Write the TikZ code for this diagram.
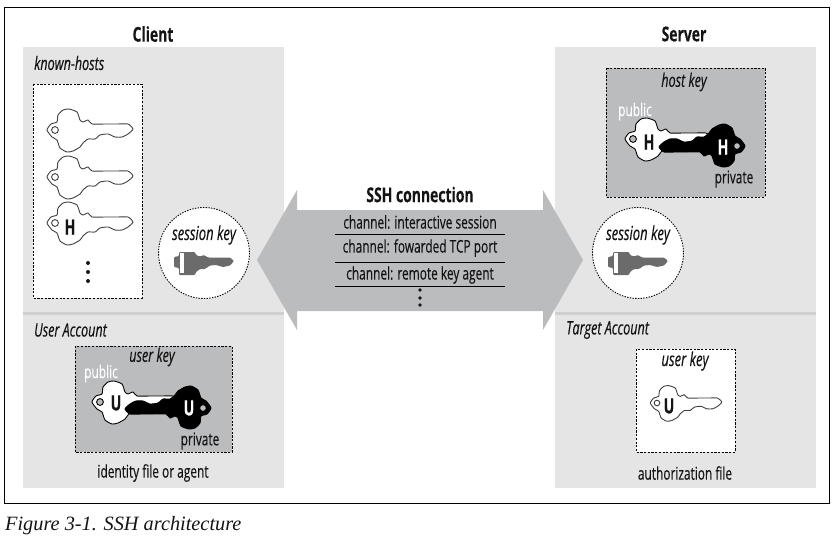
\documentclass[tikz,border=0pt]{standalone}
\usepackage{fontspec}
\setmainfont[FakeStretch=0.68,FakeBold=0.25,BoldFeatures={FakeStretch=0.68},ItalicFeatures={FakeStretch=0.68,FakeBold=0.25}]{Open Sans}
\newfontfamily\capfont{Liberation Serif}
\definecolor{panel}{HTML}{E5E5E5}
\definecolor{midgray}{HTML}{BBBCBE}
\definecolor{divider}{HTML}{CFCFCF}
\definecolor{skey}{HTML}{6B6B6B}
\definecolor{ink}{HTML}{141414}
\tikzset{
  dashbox/.style={draw=black,line width=0.8pt,dash pattern=on 2.2pt off 1.5pt},
  dotcirc/.style={draw=black,fill=white,line width=0.9pt,dash pattern=on 1.4pt off 1.3pt},
  label/.style={inner sep=0pt,font=\fontsize{17.5}{19}\selectfont,text=ink},
  ilabel/.style={label,font=\fontsize{18.5}{20}\selectfont\itshape},
  ibig/.style={label,font=\fontsize{19.2}{21}\selectfont\itshape},
  blabel/.style={label,font=\fontsize{20.5}{22}\selectfont\bfseries},
  keyletter/.style={inner sep=0pt,font=\fontsize{21}{23}\selectfont\bfseries},
  pics/keyshape/.style n args={3}{code={
    \draw[line width=0.9pt,draw=#1,fill=#2,line join=round]
      plot[smooth cycle,tension=0.35] coordinates {
      (-8,0) (-4,-6) (2,-8) (3,-15) (8,-20) (14,-21) (22,-18) (25,-10) (28,-8) (33,-10) (37,-6)
      (50,-6) (62,-6) (73,-6) (78,-1) (73,4) (67,7) (60,7) (53,4) (45,5) (40,9) (33,9)
      (28,13) (25,17) (18,21) (12,22) (5,18) (2,10) (-3,7)};
    \draw[line width=0.9pt,draw=#1,fill=#3] (0,0) circle (3.4);
  }},
  pics/sessionkey/.style={code={
    \fill[skey,rounded corners=1pt] (0,-5) -- (5,-6) -- (5,-10) -- (21,-10) -- (22,-7) -- (26,-5.5) -- (30,-7) -- (34,-4.5) -- (56,-4.5) -- (60,-1)
      -- (56,3.5) -- (49,5) -- (42,3) -- (36,3.5) -- (31,7) -- (26,7) -- (22,10) -- (21,13) -- (5,13) -- (5,6) -- (0,5) -- cycle;
    \fill[white] (6,-9) rectangle (10,11);
  }}
}
\begin{document}
\begin{tikzpicture}[x=1pt,y=-1pt]
\path[use as bounding box] (0,0) rectangle (837,550);
\draw[black,line width=0.9pt] (4,7) rectangle (829,503);
% panels
\fill[panel] (23,47) rectangle (284,488);
\fill[panel] (555,47) rectangle (816,488);
\fill[divider] (23,312) rectangle (284,315);
\fill[divider] (555,312) rectangle (816,315);
% connection arrow
\fill[midgray] (257,260) -- (297,190) -- (297,210) -- (543,210) -- (543,190) -- (583,260) -- (543,330) -- (543,311) -- (297,311) -- (297,330) -- cycle;
% titles
\node[blabel] (client) at (153,34) {Client};
\node[blabel] (server) at (684,34) {Server};
\node[blabel] (ssh) at (420,194.5) {SSH connection};
% channels
\node[label] (ch1) at (420,222) {channel: interactive session};
\node[label] (ch2) at (420,248) {channel: fowarded TCP port};
\node[label] (ch3) at (420,275) {channel: remote key agent};
\draw[black,line width=0.8pt] (335,234) -- (505,234) (335,262) -- (505,262) (335,286.5) -- (505,286.5);
\fill[ink] (420,290) circle (1.8) (420,298) circle (1.8) (420,305) circle (1.8);
% client top
\node[ilabel,anchor=west] (kh) at (34,63) {known-hosts};
\draw[dashbox,fill=white] (33,84) rectangle (142,298);
\pic at (55,130) {keyshape={black!75}{white}{white}};
\pic at (55,177) {keyshape={black!75}{white}{white}};
\pic at (55,223) {keyshape={black!75}{white}{white}};
\node[keyletter,text=ink] (hk3) at (70,227) {H};
\fill[ink] (88,263) circle (2) (88,272) circle (2) (88,281) circle (2);
% session keys
\draw[dotcirc] (204,253) circle (45.5);
\node[ibig] (sk1) at (204,235) {session key};
\pic at (174,262) {sessionkey};
\draw[dotcirc] (638,253) circle (45.5);
\node[ibig] (sk2) at (638,235) {session key};
\pic at (608,262) {sessionkey};
% client account
\node[ilabel,anchor=west] (ua) at (34,330) {User Account};
\draw[dashbox,fill=midgray] (75,346) rectangle (232,452);
\node[ilabel] (uk) at (152,357) {user key};
\pic at (100,402) {keyshape={black}{white}{midgray}};
\pic[rotate=180] at (203,408) {keyshape={black}{black}{midgray}};
\node[keyletter,text=ink] (u1) at (116,403) {U};
\node[keyletter,text=white] (u2) at (189,408) {U};
\node[label,text=white] (pub1) at (101,373.5) {public};
\node[label] (pri1) at (200,441) {private};
\node[label] (idf) at (153,473) {identity file or agent};
% server host key
\draw[dashbox,fill=midgray] (606,68) rectangle (765,197);
\node[ilabel] (hk) at (684,82) {host key};
\pic at (633,139) {keyshape={black}{white}{midgray}};
\pic[rotate=180] at (737,146) {keyshape={black}{black}{midgray}};
\node[keyletter,text=ink] (h1) at (649,142) {H};
\node[keyletter,text=white] (h2) at (723,147) {H};
\node[label,text=white] (pub2) at (635,111.5) {public};
\node[label] (pri2) at (734,179) {private};
% target account
\node[ilabel,anchor=west] (ta) at (566,330) {Target Account};
\draw[dashbox,fill=white] (636,349) rectangle (735,452);
\node[ibig] (uk2) at (685,361) {user key};
\pic[scale=0.83] at (657,403) {keyshape={black!75}{white}{white}};
\node[keyletter,text=ink] (u3) at (669,406) {U};
\node[label] (auth) at (685,473) {authorization file};
% caption
\node[inner sep=0pt,anchor=west,font=\capfont\itshape\fontsize{20.3}{22}\selectfont,text=ink] (cap) at (5,526) {Figure 3-1. SSH architecture};
\end{tikzpicture}
\end{document}
